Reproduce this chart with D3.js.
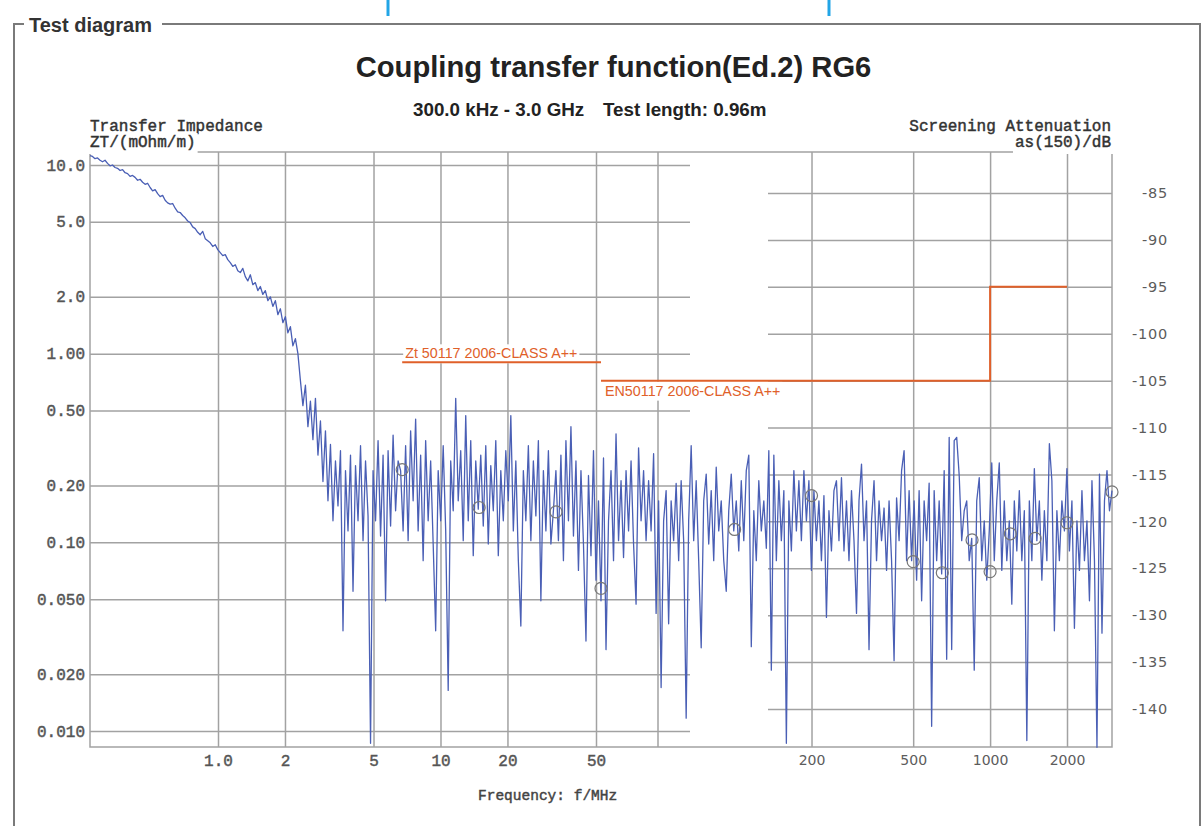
<!DOCTYPE html>
<html>
<head>
<meta charset="utf-8">
<script src="https://cdn.jsdelivr.net/npm/d3@7"></script>
<style>
  body { margin: 0; background: #fff; }
</style>
</head>
<body>
<svg id="chart" width="1203" height="826"></svg>
<script>
const sweepStart = 0.3, sweepStop = 3000;
const zt = [
  11.2, 11.1, 10.8, 10.9, 10.6, 10.4, 10.6, 10.2, 9.9, 10.0,
  9.7, 9.6, 9.35, 9.45, 9.1, 9.0, 8.7, 8.8, 8.6, 8.3,
  8.4, 8.1, 7.9, 8.0, 7.6, 7.3, 7.4, 7.05, 6.8, 6.9,
  6.5, 6.3, 6.2, 6.25, 5.9, 5.65, 5.6, 5.4, 5.25, 5.05,
  4.95, 4.7, 4.6, 4.4, 4.27, 4.45, 4.07, 3.97, 3.87, 3.7,
  3.78, 3.56, 3.43, 3.31, 3.35, 3.15, 3.04, 2.9, 2.96, 2.75,
  2.69, 2.83, 2.56, 2.43, 2.62, 2.32, 2.38, 2.16, 2.27, 2.06,
  2.16, 1.91, 2.0, 1.78, 1.91, 1.61, 1.73, 1.46, 1.57, 1.29,
  1.39, 1.1, 1.2, 1.0, 0.72,
  0.53, 0.68, 0.41, 0.56, 0.35, 0.58, 0.29, 0.44, 0.21, 0.39, 0.166, 0.33,
  0.13, 0.27, 0.156, 0.306, 0.034, 0.24, 0.115, 0.29, 0.055, 0.255, 0.13, 0.325, 0.102, 0.27,
  0.138, 0.0086, 0.24, 0.13, 0.346, 0.108, 0.29, 0.049, 0.306, 0.122, 0.37, 0.147, 0.27,
  0.24, 0.115, 0.325, 0.102, 0.39, 0.166, 0.45, 0.115, 0.29, 0.08, 0.346, 0.13, 0.27, 0.098,
  0.034, 0.24, 0.13, 0.325, 0.115, 0.0164, 0.27, 0.147, 0.58, 0.166, 0.306, 0.102, 0.47, 0.13,
  0.346, 0.085, 0.27, 0.15,
  0.29, 0.122, 0.325, 0.098, 0.255, 0.147, 0.346, 0.085, 0.24, 0.13, 0.306, 0.166, 0.47, 0.115,
  0.27, 0.08, 0.036, 0.24, 0.13, 0.325, 0.102, 0.27, 0.138, 0.346, 0.049, 0.24, 0.115, 0.306,
  0.098, 0.147, 0.24, 0.102, 0.29, 0.08, 0.346, 0.13, 0.41, 0.108, 0.27, 0.071, 0.24, 0.098,
  0.03, 0.226, 0.085, 0.306, 0.063, 0.166,
  0.049, 0.28, 0.027, 0.13, 0.24, 0.08, 0.376, 0.102, 0.212, 0.083, 0.24, 0.115, 0.27, 0.098,
  0.047, 0.317, 0.13, 0.24, 0.102, 0.212, 0.115, 0.295, 0.042, 0.166, 0.017, 0.13, 0.188, 0.037,
  0.166, 0.102, 0.205, 0.08, 0.212, 0.102, 0.0117, 0.13, 0.325, 0.102, 0.212, 0.08, 0.0276, 0.166,
  0.23, 0.098, 0.188, 0.08, 0.25, 0.115, 0.166, 0.08, 0.055, 0.147, 0.23, 0.115, 0.166, 0.09,
  0.212, 0.102, 0.24, 0.29, 0.028, 0.147, 0.08, 0.212, 0.115, 0.166, 0.093, 0.306,
  0.021, 0.29, 0.08, 0.212, 0.102, 0.188, 0.0086, 0.166, 0.09, 0.24, 0.115, 0.212, 0.102, 0.24,
  0.13, 0.212, 0.071, 0.188, 0.102, 0.166, 0.08, 0.177, 0.04, 0.147, 0.09, 0.188, 0.212, 0.102,
  0.22, 0.09, 0.166, 0.08, 0.188, 0.102, 0.042, 0.166, 0.26, 0.102, 0.166, 0.027, 0.13, 0.212,
  0.08, 0.166, 0.102, 0.152, 0.071, 0.166, 0.08, 0.0236, 0.172, 0.102,
  0.24, 0.306, 0.08, 0.188, 0.08, 0.166, 0.063, 0.188, 0.049, 0.166, 0.102, 0.206, 0.0106, 0.188,
  0.08, 0.166, 0.068, 0.24, 0.024, 0.36, 0.027, 0.346, 0.36, 0.226, 0.102, 0.147, 0.166, 0.08,
  0.105, 0.021, 0.166, 0.22, 0.08, 0.13, 0.063, 0.115, 0.264, 0.08, 0.166, 0.264, 0.071, 0.166,
  0.08, 0.13, 0.047, 0.166, 0.09, 0.188, 0.08, 0.147, 0.0089, 0.166, 0.08, 0.246, 0.102, 0.166,
  0.063, 0.147, 0.08, 0.333, 0.212, 0.034, 0.147, 0.08, 0.166, 0.115, 0.246, 0.09, 0.166, 0.035,
  0.13, 0.071, 0.188, 0.08, 0.13, 0.049, 0.212, 0.08, 0.0082, 0.23, 0.033, 0.166, 0.24, 0.147,
  0.188
];

// circled check points on the trace
const markerFreq = [5, 10, 20, 30, 100, 200, 500, 650, 850, 1000, 1200, 1500, 2000, 3000];
const markerZt = [0.243, 0.153, 0.145, 0.057, 0.117, 0.177, 0.079, 0.069, 0.103, 0.07, 0.111, 0.105, 0.127, 0.185];

// limit lines
const ztLimitFreq = [5, 30];
const ztLimitVal = [0.9, 0.9];
const asLimitFreq = [30, 1000, 1000, 2000];
const asLimitVal = [-105, -105, -95, -95];

// ticks
const ztTicks = [10, 5, 2, 1, 0.5, 0.2, 0.1, 0.05, 0.02, 0.01];
const ztTickLabels = ['10.0', '5.0', '2.0', '1.00', '0.50', '0.20', '0.10', '0.050', '0.020', '0.010'];
const asTicks = [-85, -90, -95, -100, -105, -110, -115, -120, -125, -130, -135, -140];
const fTicksLeft = [1, 2, 5, 10, 20, 50];
const fLabelsLeft = ['1.0', '2', '5', '10', '20', '50'];
const fTicksRight = [200, 500, 1000, 2000];
const fLabelsRight = ['200', '500', '1000', '2000'];

const svg = d3.select('#chart');
const plot = { left: 90, right: 1112, top: 152, bottom: 747 };
const ztGridRight = 690, asGridLeft = 768, ztFrameX = 658;
const gridColor = '#a2a2a2';
const mono = '"Liberation Mono", "DejaVu Sans Mono", monospace';
const sans = '"DejaVu Sans", Verdana, sans-serif';
const arial = '"Liberation Sans", Arial, sans-serif';

let xF = d3.scaleLog().domain([sweepStart, sweepStop]).range([plot.left, plot.right]);
let xZt = d3.scaleLog().domain([1, 50]).range([218, 596]);
let yZt = d3.scaleLog().domain([0.01, 10]).range([731, 165]);
let yAs = d3.scaleLinear().domain([-85, -140]).range([193, 709]);

let sweep = zt.map((v, i) => ({
  f: sweepStart * Math.pow(sweepStop / sweepStart, i / (zt.length - 1)),
  v: v
}));

// heavier look for the thin monospace text
function ink(sel, color) {
  sel.attr('fill', color).attr('stroke', color).attr('stroke-width', 0.45);
}

// outer "Test diagram" frame
svg.append('path')
  .attr('d', 'M24,24H14V826M162,24H1200V826')
  .attr('fill', 'none').attr('stroke', '#7a7a7a').attr('stroke-width', 2);
svg.append('text').attr('x', 29).attr('y', 32)
  .attr('font-family', arial).attr('font-weight', 'bold').attr('font-size', 20)
  .attr('fill', '#333').text('Test diagram');

// blue handles at top
[388, 829].forEach(x => {
  svg.append('line').attr('x1', x).attr('x2', x).attr('y1', 0).attr('y2', 16)
    .attr('stroke', '#22a5e6').attr('stroke-width', 3);
});

// titles
svg.append('text').attr('x', 613.5).attr('y', 77).attr('text-anchor', 'middle')
  .attr('font-family', arial).attr('font-weight', 'bold').attr('font-size', 29.2)
  .attr('fill', '#222').text('Coupling transfer function(Ed.2) RG6');
svg.append('text').attr('x', 413).attr('y', 116)
  .attr('font-family', arial).attr('font-weight', 'bold').attr('font-size', 18.8)
  .attr('fill', '#222').text('300.0 kHz - 3.0 GHz');
svg.append('text').attr('x', 603).attr('y', 116)
  .attr('font-family', arial).attr('font-weight', 'bold').attr('font-size', 18.8)
  .attr('fill', '#222').text('Test length: 0.96m');

// left axis + horizontal grid of the ZT chart
let gY = svg.append('g').attr('transform', `translate(${plot.left},0)`)
  .call(d3.axisLeft(yZt).tickValues(ztTicks).tickFormat((d, i) => ztTickLabels[i])
    .tickSize(-(ztGridRight - plot.left)).tickPadding(5));
gY.select('.domain').remove();
gY.selectAll('line').attr('stroke', gridColor).attr('stroke-width', 1.5);
gY.selectAll('text').attr('font-family', mono).attr('font-size', 16).call(ink, '#555');

// right axis + horizontal grid of the screening attenuation chart
let gA = svg.append('g').attr('transform', `translate(${plot.right},0)`)
  .call(d3.axisRight(yAs).tickValues(asTicks).tickFormat(d => String(d))
    .tickSize(-(plot.right - asGridLeft)));
gA.select('.domain').remove();
gA.selectAll('line').attr('stroke', gridColor).attr('stroke-width', 1.5);
gA.selectAll('text').attr('x', 56).attr('text-anchor', 'end')
  .attr('font-family', sans).attr('font-size', 14.5).attr('letter-spacing', 0.8).attr('fill', '#5c5c5c');

// bottom axes + vertical grid
let gXl = svg.append('g').attr('transform', `translate(0,${plot.bottom})`)
  .call(d3.axisBottom(xZt).tickValues(fTicksLeft).tickFormat((d, i) => fLabelsLeft[i])
    .tickSize(-(plot.bottom - plot.top)).tickPadding(8));
gXl.select('.domain').remove();
gXl.selectAll('line').attr('stroke', gridColor).attr('stroke-width', 1.5);
gXl.selectAll('text').attr('font-family', mono).attr('font-size', 16).call(ink, '#555');

let gXr = svg.append('g').attr('transform', `translate(0,${plot.bottom})`)
  .call(d3.axisBottom(xF).tickValues(fTicksRight).tickFormat((d, i) => fLabelsRight[i])
    .tickSize(-(plot.bottom - plot.top)).tickPadding(8));
gXr.select('.domain').remove();
gXr.selectAll('line').attr('stroke', gridColor).attr('stroke-width', 1.5);
gXr.selectAll('text').attr('font-family', sans).attr('font-size', 14).attr('fill', '#5c5c5c');

// frame of the plot area
svg.append('path')
  .attr('d', `M${plot.left},${plot.top}V${plot.bottom}H${plot.right}V${plot.top}H${plot.left}` +
             `M${ztFrameX},${plot.top}V${plot.bottom}`)
  .attr('fill', 'none').attr('stroke', gridColor).attr('stroke-width', 1.5);

// axis titles (white boxes hide the frame under them)
function label(x, y, txt, anchor, font, size, color, heavy) {
  let t = svg.append('text').attr('x', x).attr('y', y).attr('text-anchor', anchor)
    .attr('font-family', font).attr('font-size', size).attr('fill', color).text(txt);
  if (heavy) t.call(ink, color);
  let b = t.node().getBBox();
  svg.insert('rect', () => t.node())
    .attr('x', b.x - 2).attr('y', b.y - 1).attr('width', b.width + 4).attr('height', b.height + 3)
    .attr('fill', '#fff');
  return t;
}
label(90, 131, 'Transfer Impedance', 'start', mono, 16, '#333', true);
label(90, 147, 'ZT/(mOhm/m)', 'start', mono, 16, '#333', true);
label(1111, 131, 'Screening Attenuation', 'end', mono, 16, '#333', true);
label(1111, 147, 'as(150)/dB', 'end', mono, 16, '#333', true);
svg.append('text').attr('x', 478).attr('y', 800)
  .attr('font-family', mono).attr('font-size', 14.5).call(ink, '#444')
  .text('Frequency: f/MHz');

// limit labels
label(xF(ztLimitFreq[0]) + 3, yZt(ztLimitVal[0]) - 4, 'Zt 50117 2006-CLASS A++', 'start', arial, 14.3, '#e0602a');
label(xF(asLimitFreq[0]) + 4, yAs(asLimitVal[0]) + 15, 'EN50117 2006-CLASS A++', 'start', arial, 14.3, '#e0602a');

// measured trace
let line = d3.line().x(d => xF(d.f)).y(d => yZt(d.v));
svg.append('path').datum(sweep)
  .attr('d', line)
  .attr('fill', 'none').attr('stroke', '#4a5fb5').attr('stroke-width', 1.3)
  .attr('stroke-linejoin', 'round');

// check-point circles
svg.append('g').selectAll('circle')
  .data(markerFreq)
  .enter().append('circle')
    .attr('cx', d => xF(d))
    .attr('cy', (d, i) => yZt(markerZt[i]))
    .attr('r', 6)
    .attr('fill', 'none').attr('stroke', '#777').attr('stroke-width', 1.2);

// limit lines
svg.append('path')
  .datum(ztLimitFreq.map((f, i) => [xF(f), yZt(ztLimitVal[i])]))
  .attr('d', d3.line())
  .attr('fill', 'none').attr('stroke', '#e0602a').attr('stroke-width', 2);
svg.append('path')
  .datum(asLimitFreq.map((f, i) => [xF(f), yAs(asLimitVal[i])]))
  .attr('d', d3.line())
  .attr('fill', 'none').attr('stroke', '#e0602a').attr('stroke-width', 2);
</script>
</body>
</html>
